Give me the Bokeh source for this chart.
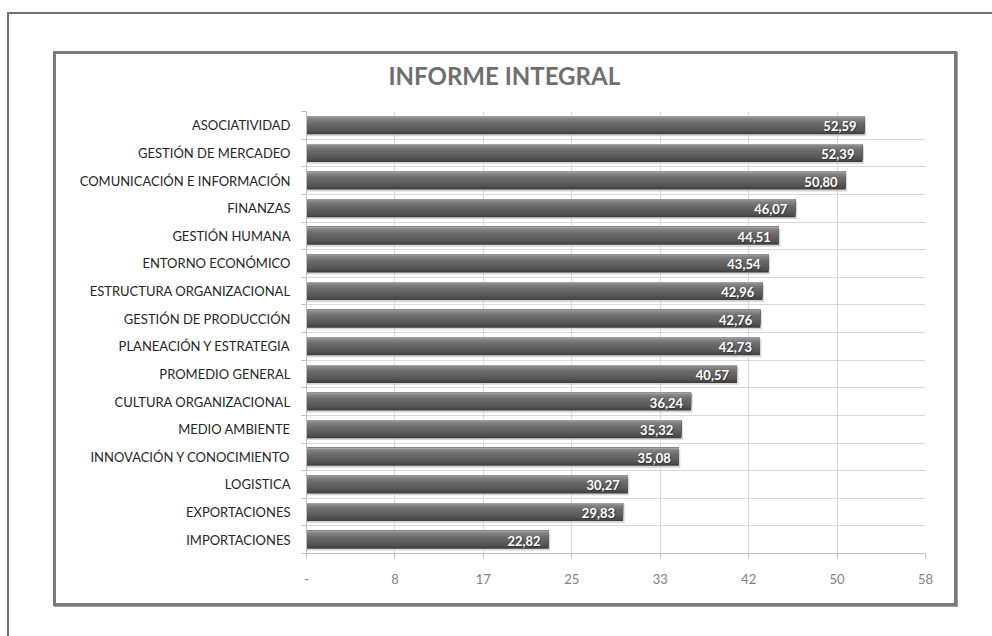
from bokeh.plotting import figure
from bokeh.layouts import column
from bokeh.models import FixedTicker, Range1d, ColumnDataSource, LinearAxis
from bokeh.core.properties import value
from bokeh.embed import file_html
from bokeh.resources import INLINE
import numpy as np

# Scores per area, highest first
categories = [
    "ASOCIATIVIDAD", "GESTIÓN DE MERCADEO", "COMUNICACIÓN E INFORMACIÓN",
    "FINANZAS", "GESTIÓN HUMANA", "ENTORNO ECONÓMICO",
    "ESTRUCTURA ORGANIZACIONAL", "GESTIÓN DE PRODUCCIÓN",
    "PLANEACIÓN Y ESTRATEGIA", "PROMEDIO GENERAL", "CULTURA ORGANIZACIONAL",
    "MEDIO AMBIENTE", "INNOVACIÓN Y CONOCIMIENTO", "LOGISTICA",
    "EXPORTACIONES", "IMPORTACIONES",
]
scores = [52.59, 52.39, 50.80, 46.07, 44.51, 43.54, 42.96, 42.76,
          42.73, 40.57, 36.24, 35.32, 35.08, 30.27, 29.83, 22.82]
x_ticks = [0, 8.333, 16.667, 25.0, 33.333, 41.667, 50.0, 58.333]
x_tick_labels = ["-", "8", "17", "25", "33", "42", "50", "58"]

FONT = "Lato"
n = len(categories)
rows = np.arange(n)[::-1].astype(float)      # first category on top
vals = np.array(scores)

p = figure(width=904, height=555, output_backend="svg", toolbar_location=None,
           x_range=Range1d(x_ticks[0], x_ticks[-1]), y_range=Range1d(-0.5, n - 0.5),
           min_border_left=250, min_border_right=35, min_border_top=57,
           min_border_bottom=56, margin=(37, 0, 0, 44),
           styles={"border": "3px solid #7a7a7a",
                   "box-shadow": "1px 1px 0px #a0a0a0"})
p.background_fill_color = "white"
p.border_fill_color = "white"
p.outline_line_color = None

# Value axis (bottom)
xa = p.below[0]
xa.ticker = FixedTicker(ticks=x_ticks)
xa.major_label_overrides = {t: s for t, s in zip(x_ticks, x_tick_labels)}
xa.axis_line_color = "#bfbfbf"
xa.major_tick_line_color = "#bfbfbf"
xa.major_tick_out = 5
xa.major_tick_in = 0
xa.minor_tick_line_color = None
xa.major_label_text_font = FONT
xa.major_label_text_font_size = "13px"
xa.major_label_text_color = "#7f7f7f"
xa.major_label_standoff = 15
p.xgrid.ticker = xa.ticker
p.xgrid.grid_line_color = "#d9d9d9"

# Category axis (left)
ya = p.left[0]
ya.ticker = FixedTicker(ticks=list(rows),
                        minor_ticks=[k - 0.5 for k in range(n + 1)])
ya.major_label_overrides = {float(r): c for r, c in zip(rows, categories)}
ya.axis_line_color = "#bfbfbf"
ya.major_tick_line_color = None
ya.major_tick_out = 0
ya.major_tick_in = 0
ya.minor_tick_line_color = "#bfbfbf"
ya.minor_tick_out = 5
ya.minor_tick_in = 0
ya.major_label_text_font = FONT
ya.major_label_text_font_size = "13px"
ya.major_label_text_color = "#262626"
ya.major_label_standoff = 11
p.ygrid.ticker = ya.ticker
p.ygrid.grid_line_color = None
p.ygrid.minor_grid_line_color = "#d9d9d9"

# Blank spacer axis between the plot area and the title: one invisible tick
# whose outward length reserves the gap
spacer = LinearAxis(ticker=FixedTicker(ticks=[x_ticks[0]]), axis_line_color=None,
                    major_tick_line_color=None, minor_tick_line_color=None,
                    major_tick_out=22, major_tick_in=0, major_label_standoff=0,
                    major_label_overrides={x_ticks[0]: ""},
                    major_label_text_font_size="1px")
p.add_layout(spacer, "above")

# Title
p.title.text = "INFORME INTEGRAL"
p.title.align = "left"
p.title.offset = 82
p.title.standoff = 0
p.title.vertical_align = "bottom"
p.title.text_font = FONT
p.title.text_font_size = "24px"
p.title.text_font_style = "bold"
p.title.text_color = "#6f6f6f"

# Bars: soft drop shadow, then shading layers stacked from the top edge down
H = 0.65
src = ColumnDataSource(dict(y=rows, v=vals,
                            lab=[f"{s:.2f}".replace(".", ",") for s in scores]))
p.hbar(y=rows - 0.07, left=0, right=vals + 0.15, height=H,
       fill_color="#c4c4c4", fill_alpha=0.7, line_color=None)

stops = [(0.00, (0xb0, 0xb0, 0xb0)), (0.10, (0x88, 0x88, 0x88)),
         (0.35, (0x6c, 0x6c, 0x6c)), (0.70, (0x5a, 0x5a, 0x5a)),
         (0.90, (0x4a, 0x4a, 0x4a)), (1.00, (0x3a, 0x3a, 0x3a))]


def shade(t):
    for (t0, c0), (t1, c1) in zip(stops[:-1], stops[1:]):
        if t0 <= t <= t1:
            f = (t - t0) / (t1 - t0)
            return "#%02x%02x%02x" % tuple(int(round(a + (b - a) * f))
                                            for a, b in zip(c0, c1))
    return "#3a3a3a"


layers = 16
top_edge = rows + H / 2
for k in range(layers, 0, -1):
    depth = H * k / layers
    p.hbar(y=top_edge - depth / 2, left=0, right=vals, height=depth,
           fill_color=shade((k - 0.5) / layers), line_color=None)

# Value labels inside the bar ends
p.text(x="v", y="y", text="lab", source=src, text_align="right",
       text_baseline="middle", x_offset=-7, y_offset=2,
       text_font=value(FONT), text_font_style="bold", text_font_size="13px",
       text_color="#2a2a2a", text_alpha=0.6)
p.text(x="v", y="y", text="lab", source=src, text_align="right",
       text_baseline="middle", x_offset=-8, y_offset=1,
       text_font=value(FONT), text_font_style="bold", text_font_size="13px",
       text_color="white")

page = column(p, margin=(12, 0, 0, 7),
              styles={"border-top": "2px solid #707070",
                      "border-left": "2px solid #707070",
                      "width": "2000px", "height": "2000px"})

open("out.html", "w").write(file_html(page, INLINE))
